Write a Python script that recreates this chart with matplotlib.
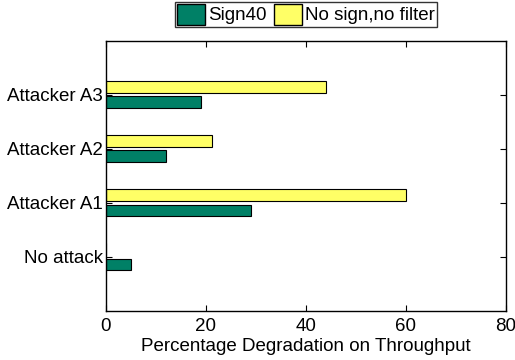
import numpy as np
import matplotlib
matplotlib.use('Agg')
import matplotlib.pyplot as plt
from matplotlib.patches import Patch

plt.rcParams['font.family'] = ['Liberation Sans', 'DejaVu Sans']

scenarios = ['No attack', 'Attacker A1', 'Attacker A2', 'Attacker A3']
sign40 = [5.1, 29.1, 12.1, 19.1]
no_filter = [0, 60, 21.2, 44]
series_names = ['Sign40', 'No sign,no filter']
green = '#008066'
yellow = '#ffff66'

fig = plt.figure(figsize=(5.15, 3.6), dpi=100)
ax = fig.add_axes([0.2058, 0.136, 0.7767, 0.751])

pos = np.arange(1, len(scenarios) + 1)
h = 0.22
ax.barh(pos - 0.14, sign40, height=h, color=green, edgecolor='black', linewidth=0.8)
ax.barh(pos + 0.15, no_filter, height=h, color=yellow, edgecolor='black', linewidth=0.8)

ax.set_xlim(0, 80)
ax.set_ylim(0, 5)
ax.set_xticks([0, 20, 40, 60, 80])
ax.set_yticks(pos)
ax.set_yticklabels(scenarios)
ax.tick_params(direction='in', top=True, right=True, labelsize=13.5, length=4)
ax.tick_params(axis='x', pad=5)
ax.tick_params(axis='y', pad=2)
ax.set_xlabel('Percentage Degradation on Throughput', fontsize=13.5, labelpad=2)
for s in ax.spines.values():
    s.set_linewidth(1.0)

handles = [Patch(facecolor=green, edgecolor='black'), Patch(facecolor=yellow, edgecolor='black')]
fig.legend(handles, series_names, loc='upper center', bbox_to_anchor=(0.594, 0.995), ncol=2,
           fontsize=13.5, frameon=True, fancybox=False, edgecolor='black', borderpad=0.1,
           handlelength=1.5, handleheight=1.35, handletextpad=0.15, columnspacing=0.4,
           borderaxespad=0.0)

plt.savefig('out.png', dpi=100)
